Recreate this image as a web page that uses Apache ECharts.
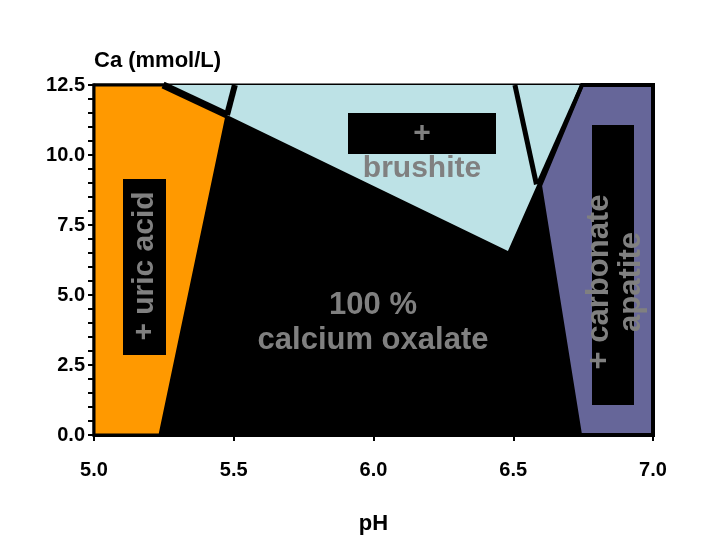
<!DOCTYPE html>
<html>
<head>
<meta charset="utf-8">
<script src="https://cdn.jsdelivr.net/npm/echarts@6/dist/echarts.min.js"></script>
<style>html,body{margin:0;padding:0;background:#fff;}#chart{width:720px;height:540px;}</style>
</head>
<body>
<div id="chart"></div>
<script>
// Axis ticks
const phTicks = [5.0, 5.5, 6.0, 6.5, 7.0];
const caTicks = [0.0, 2.5, 5.0, 7.5, 10.0, 12.5];

// Region polygons [pH, Ca (mmol/L)]
const uricAcidRegion = [[5.0, 0], [5.236, 0], [5.476, 11.43], [5.247, 12.5], [5.0, 12.5]];
const brushiteRegion = [[5.247, 12.5], [6.746, 12.5], [6.586, 8.95], [6.481, 6.57], [5.476, 11.43]];
const apatiteRegion = [[6.746, 12.5], [7.0, 12.5], [7.0, 0], [6.739, 0], [6.596, 8.9]];

// Boundary lines
const boundaryA = [[5.247, 12.5], [5.476, 11.43]];
const boundaryB = [[5.504, 12.5], [5.476, 11.43]];
const boundaryC = [[6.506, 12.5], [6.583, 8.95]];
const boundaryD = [[6.746, 12.5], [6.588, 8.95]];

const FONT = '"Liberation Sans", Arial, sans-serif';
const GREY = '#808080';

function polygonSeries(points, color, strokeWidth) {
  return {
    type: 'custom',
    coordinateSystem: 'cartesian2d',
    data: points,
    encode: { x: 0, y: 1 },
    silent: true,
    renderItem: function (params, api) {
      if (params.dataIndex !== 0) return null;
      const pts = points.map(p => api.coord(p));
      return {
        type: 'polygon',
        shape: { points: pts },
        style: { fill: color, stroke: '#000', lineWidth: strokeWidth }
      };
    }
  };
}

function lineSeries(points, width) {
  return {
    type: 'line',
    data: points,
    symbol: 'none',
    silent: true,
    lineStyle: { color: '#000', width: width, cap: 'butt' },
    z: 5
  };
}

const chart = echarts.init(document.getElementById('chart'));
chart.setOption({
  animation: false,
  grid: {
    left: 94, top: 85, right: 67, bottom: 103,
    show: true, backgroundColor: '#000', borderColor: '#000', borderWidth: 3
  },
  xAxis: {
    type: 'value', min: 5.0, max: 7.0, interval: 0.5,
    name: 'pH', nameLocation: 'middle', nameGap: 78,
    nameTextStyle: { fontFamily: FONT, fontWeight: 'bold', fontSize: 22, color: '#000' },
    axisLine: { show: true, lineStyle: { color: '#000', width: 3 } },
    axisTick: { show: true, inside: false, length: 6, lineStyle: { color: '#000', width: 2 } },
    splitLine: { show: false },
    axisLabel: {
      margin: 25, fontFamily: FONT, fontWeight: 'bold', fontSize: 20, color: '#000',
      formatter: v => v.toFixed(1)
    }
  },
  yAxis: {
    type: 'value', min: 0, max: 12.5, interval: 2.5,
    name: 'Ca (mmol/L)', nameLocation: 'end', nameGap: 24,
    nameTextStyle: { fontFamily: FONT, fontWeight: 'bold', fontSize: 22, color: '#000', align: 'left', verticalAlign: 'middle' },
    axisLine: { show: true, lineStyle: { color: '#000', width: 3 } },
    axisTick: { show: true, inside: false, length: 6, lineStyle: { color: '#000', width: 2 } },
    minorTick: { show: true, splitNumber: 5, length: 6, lineStyle: { color: '#000', width: 2 } },
    splitLine: { show: false },
    axisLabel: {
      margin: 9, fontFamily: FONT, fontWeight: 'bold', fontSize: 20, color: '#000',
      formatter: v => v.toFixed(1)
    }
  },
  series: [
    polygonSeries(uricAcidRegion, '#ff9900', 3),
    polygonSeries(brushiteRegion, '#bde2e6', 0),
    polygonSeries(apatiteRegion, '#666699', 4),
    lineSeries(boundaryA, 7),
    lineSeries(boundaryB, 6),
    lineSeries(boundaryC, 5),
    lineSeries(boundaryD, 4)
  ],
  graphic: [
    { type: 'rect', z: 100, shape: { x: 123, y: 179, width: 43, height: 176 }, style: { fill: '#000' } },
    { type: 'text', z: 101, x: 145, y: 266, rotation: Math.PI / 2,
      style: { text: '+ uric acid', font: 'bold 30px ' + FONT, fill: GREY, align: 'center', verticalAlign: 'middle' } },
    { type: 'rect', z: 100, shape: { x: 348, y: 113, width: 148, height: 41 }, style: { fill: '#000' } },
    { type: 'text', z: 101, x: 422, y: 134,
      style: { text: '+', font: 'bold 30px ' + FONT, fill: GREY, align: 'center', verticalAlign: 'middle' } },
    { type: 'text', z: 101, x: 422, y: 169,
      style: { text: 'brushite', font: 'bold 30px ' + FONT, fill: GREY, align: 'center', verticalAlign: 'middle' } },
    { type: 'text', z: 101, x: 373, y: 323,
      style: { text: '100 %\ncalcium oxalate', font: 'bold 31px ' + FONT, lineHeight: 35, fill: GREY, align: 'center', verticalAlign: 'middle' } },
    { type: 'rect', z: 100, shape: { x: 592, y: 125, width: 42, height: 280 }, style: { fill: '#000' } },
    { type: 'text', z: 101, x: 615, y: 282, rotation: Math.PI / 2,
      style: { text: '+ carbonate\napatite', font: 'bold 31px ' + FONT, lineHeight: 32, fill: GREY, align: 'center', verticalAlign: 'middle' } }
  ]
});
</script>
</body>
</html>
